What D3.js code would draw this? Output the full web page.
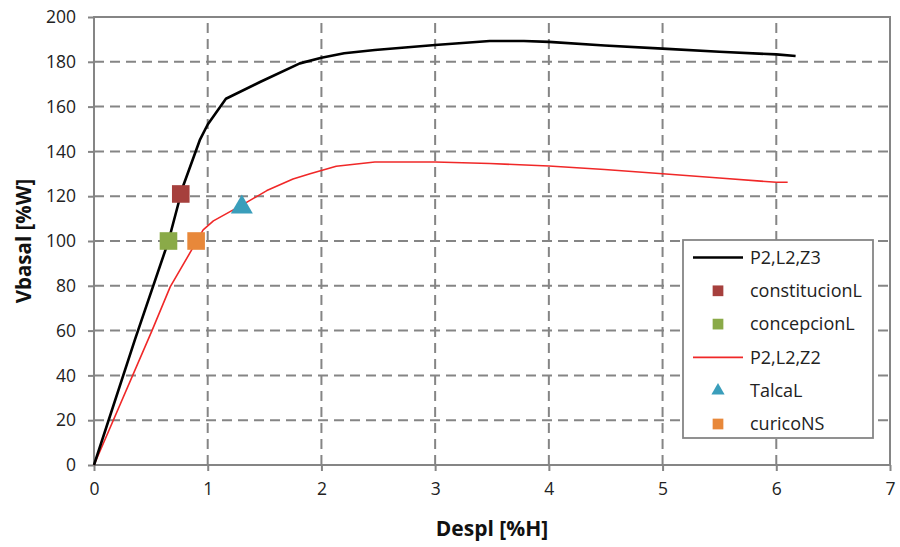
<!DOCTYPE html>
<html>
<head>
<meta charset="utf-8">
<script src="https://cdn.jsdelivr.net/npm/d3@7"></script>
<style>
  body { margin: 0; background: #fff; }
  svg { display: block; }
  text { font-family: "Open Sans", "DejaVu Sans", sans-serif; }
</style>
</head>
<body>
<svg id="chart" width="900" height="547"></svg>
<script>
// ---- data ----
const xTicks = [0, 1, 2, 3, 4, 5, 6, 7];
const yTicks = [0, 20, 40, 60, 80, 100, 120, 140, 160, 180, 200];

const z3X = [0, 0.36, 0.655, 0.78, 0.93, 1.0, 1.16, 1.46, 1.81, 2.0, 2.2, 2.47, 3.0, 3.48, 3.78, 4.0, 4.49, 5.0, 5.5, 6.0, 6.17];
const z3Y = [0, 56, 100, 124, 145, 152, 163.5, 171, 179.3, 181.8, 183.8, 185.3, 187.5, 189.3, 189.3, 188.9, 187.3, 185.9, 184.5, 183.3, 182.6];

const z2X = [0, 0.51, 0.67, 0.87, 0.96, 1.05, 1.3, 1.52, 1.75, 1.9, 2.13, 2.47, 3.0, 3.48, 4.0, 4.49, 5.0, 5.5, 6.0, 6.1];
const z2Y = [0, 60, 79.5, 97, 105, 109, 116, 122.5, 127.7, 130, 133.4, 135.3, 135.3, 134.6, 133.5, 131.9, 130, 128.1, 126.2, 126.2];

const pointNames = ["constitucionL", "concepcionL", "TalcaL", "curicoNS"];
const pointX = [0.763, 0.655, 1.30, 0.898];
const pointY = [121, 100, 116, 100];
const pointShape = ["square", "square", "triangle", "square"];
const pointColor = ["#A6403D", "#8AAA48", "#3A9EBB", "#E8883A"];

const legendNames = ["P2,L2,Z3", "constitucionL", "concepcionL", "P2,L2,Z2", "TalcaL", "curicoNS"];

// ---- chart ----
const svg = d3.select("#chart");
const x = d3.scaleLinear().domain([0, 7]).range([94, 890]);
const y = d3.scaleLinear().domain([0, 200]).range([465, 17]);
const gridColor = "#858585";

// grid lines
svg.append("g").selectAll("line").data(yTicks.filter(d => d > 0 && d < 200)).join("line")
  .attr("x1", x(0)).attr("x2", x(7)).attr("y1", d => y(d)).attr("y2", d => y(d))
  .attr("stroke", gridColor).attr("stroke-width", 2).attr("stroke-dasharray", "10,6");
svg.append("g").selectAll("line").data(xTicks.filter(d => d > 0 && d < 7)).join("line")
  .attr("y1", y(0)).attr("y2", y(200)).attr("x1", d => x(d)).attr("x2", d => x(d))
  .attr("stroke", gridColor).attr("stroke-width", 2).attr("stroke-dasharray", "10,6");

// plot border
svg.append("rect").attr("x", x(0)).attr("y", y(200)).attr("width", x(7) - x(0)).attr("height", y(0) - y(200))
  .attr("fill", "none").attr("stroke", gridColor).attr("stroke-width", 2);

// axes
const xAxis = svg.append("g").attr("transform", `translate(0,${y(0)})`)
  .call(d3.axisBottom(x).tickValues(xTicks).tickFormat(d3.format("d")).tickSize(6).tickPadding(12));
const yAxis = svg.append("g").attr("transform", `translate(${x(0)},0)`)
  .call(d3.axisLeft(y).tickValues(yTicks).tickFormat(d3.format("d")).tickSize(6).tickPadding(12));
[xAxis, yAxis].forEach(a => {
  a.select(".domain").remove();
  a.selectAll(".tick line").attr("stroke", gridColor).attr("stroke-width", 2);
  a.selectAll(".tick text").attr("fill", "#222").style("font-size", "17.5px")
    .style("font-family", '"Open Sans", sans-serif');
});

// lines
const line = d3.line().x(d => x(d[0])).y(d => y(d[1]));
svg.append("path").datum(z2X.map((v, i) => [v, z2Y[i]]))
  .attr("d", line).attr("fill", "none").attr("stroke", "#F02828").attr("stroke-width", 1.6)
  .attr("stroke-linejoin", "round");
svg.append("path").datum(z3X.map((v, i) => [v, z3Y[i]]))
  .attr("d", line).attr("fill", "none").attr("stroke", "#000").attr("stroke-width", 2.6)
  .attr("stroke-linejoin", "round");

// markers
const symSquare = d3.symbol().type(d3.symbolSquare);
const symTri = d3.symbol().type(d3.symbolTriangle);
pointNames.forEach((n, i) => {
  const s = pointShape[i] === "square" ? symSquare.size(310) : symTri.size(210);
  svg.append("path").attr("d", s())
    .attr("transform", `translate(${x(pointX[i])},${y(pointY[i]) + (pointShape[i] === "triangle" ? 2 : 0)})`)
    .attr("fill", pointColor[i]);
});

// axis titles
svg.append("text").attr("x", 492).attr("y", 536).attr("text-anchor", "middle")
  .style("font-size", "21px").style("font-weight", "bold").attr("fill", "#111").text("Despl [%H]");
svg.append("text").attr("transform", `translate(31,${(y(0) + y(200)) / 2}) rotate(-90)`)
  .attr("text-anchor", "middle").style("font-size", "20.5px").style("font-weight", "bold")
  .attr("fill", "#111").text("Vbasal [%W]");

// legend
const lg = svg.append("g");
lg.append("rect").attr("x", 683).attr("y", 240).attr("width", 190).attr("height", 198)
  .attr("fill", "#fff").attr("stroke", gridColor).attr("stroke-width", 1.8);
const rowY = i => 257.5 + i * 33.3;
const legendStyle = [
  { kind: "line", color: "#000", w: 2.6 },
  { kind: "square", color: pointColor[0] },
  { kind: "square", color: pointColor[1] },
  { kind: "line", color: "#F02828", w: 1.6 },
  { kind: "triangle", color: pointColor[2] },
  { kind: "square", color: pointColor[3] }
];
legendNames.forEach((n, i) => {
  const st = legendStyle[i];
  const cy = rowY(i);
  if (st.kind === "line") {
    lg.append("line").attr("x1", 693).attr("x2", 743).attr("y1", cy).attr("y2", cy)
      .attr("stroke", st.color).attr("stroke-width", st.w);
  } else {
    const s = st.kind === "square" ? symSquare.size(115) : symTri.size(75);
    lg.append("path").attr("d", s()).attr("transform", `translate(718,${cy})`).attr("fill", st.color);
  }
  lg.append("text").attr("x", 750).attr("y", cy).attr("dy", "0.35em")
    .style("font-size", "18px").attr("fill", "#222").text(n);
});
</script>
</body>
</html>
